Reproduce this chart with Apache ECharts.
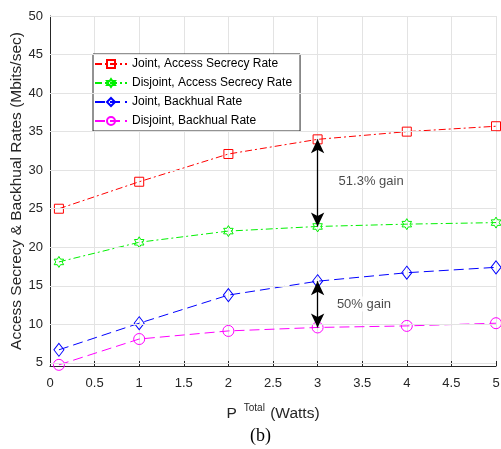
<!DOCTYPE html>
<html><head><meta charset="utf-8">
<script src="https://cdn.jsdelivr.net/npm/echarts@6/dist/echarts.min.js"></script>
<style>html,body{margin:0;padding:0;background:#fff}#c{width:501px;height:449px}</style>
</head><body><div id="c"></div>
<script>
const xValues = [0.1, 1, 2, 3, 4, 5];
const jointAccess = [25.0, 28.5, 32.1, 34.0, 35.0, 35.7];
const disjointAccess = [18.1, 20.65, 22.1, 22.7, 23.0, 23.2];
const jointBackhaul = [6.7, 10.15, 13.8, 15.6, 16.7, 17.4];
const disjointBackhaul = [4.75, 8.1, 9.15, 9.6, 9.8, 10.15];
const seriesNames = ['Joint, Access Secrecy Rate','Disjoint, Access Secrecy Rate','Joint, Backhual Rate','Disjoint, Backhual Rate'];
const yTicks = [5, 10, 15, 20, 25, 30, 35, 40, 45, 50];
const gainArrows = [[3, 34.0, 22.7], [3, 15.6, 9.6]];
const gainLabels = [[3.6, 28.6, '51.3% gain'], [3.52, 12.65, '50% gain']];

const hexagram = 'path://M0,-100 L28.9,-50 L86.6,-50 L57.7,0 L86.6,50 L28.9,50 L0,100 L-28.9,50 L-86.6,50 L-57.7,0 L-86.6,-50 L-28.9,-50 Z';
const FONT = 'Liberation Sans, Arial, sans-serif';
const pair = arr => xValues.map((x, i) => [x, arr[i]]);

function lineSeries(name, data, color, symbol, size, dash) {
  return {
    name, type: 'line', data: pair(data), symbol, symbolSize: size, symbolKeepAspect: true,
    showAllSymbol: true, clip: false,
    lineStyle: { color, width: 1, type: dash },
    itemStyle: { color: 'rgba(0,0,0,0)', borderColor: color, borderWidth: 1 },
    emphasis: { disabled: true }, z: 3
  };
}

const chart = echarts.init(document.getElementById('c'), null, { renderer: 'canvas' });
chart.setOption({
  animation: false,
  textStyle: { fontFamily: FONT },
  grid: { left: 50, right: 5, top: 16, bottom: 83, containLabel: false, outerBoundsMode: 'none' },
  xAxis: {
    type: 'value', min: 0, max: 5, interval: 0.5,
    axisLine: { lineStyle: { color: '#262626', width: 1 } },
    axisTick: { inside: true, length: 5, lineStyle: { color: '#262626' } },
    axisLabel: { color: '#262626', fontSize: 13, margin: 11, fontFamily: FONT },
    splitLine: { show: true, lineStyle: { color: '#e3e3e3', width: 1 } },
    name: '{p|P}{sup|Total}{w| (Watts)}', nameLocation: 'middle', nameGap: 36, nameMoveOverlap: false,
    nameTextStyle: {
      color: '#262626', fontFamily: FONT,
      rich: {
        p: { fontSize: 15.5, color: '#262626', fontFamily: FONT, verticalAlign: 'bottom', lineHeight: 20 },
        sup: { fontSize: 10, color: '#262626', fontFamily: FONT, verticalAlign: 'top', lineHeight: 20, padding: [1, 1, 0, 7] },
        w: { fontSize: 15.5, color: '#262626', fontFamily: FONT, verticalAlign: 'bottom', lineHeight: 20 }
      }
    }
  },
  yAxis: {
    type: 'value', min: 4.6, max: 50,
    axisLine: { show: true, lineStyle: { color: '#262626', width: 1 } },
    axisTick: { show: true, inside: true, length: 5, customValues: yTicks, lineStyle: { color: '#262626' } },
    axisLabel: { color: '#262626', fontSize: 13, margin: 7, fontFamily: FONT, customValues: yTicks },
    splitLine: { show: false },
    name: 'Access Secrecy & Backhual Rates (Mbits/sec)', nameLocation: 'middle', nameGap: 25, nameMoveOverlap: false,
    nameTextStyle: { color: '#262626', fontSize: 15.5, fontFamily: FONT }
  },
  legend: {
    data: seriesNames, orient: 'vertical', left: 93, top: 54,
    backgroundColor: '#fff', borderColor: '#262626', borderWidth: 1, borderRadius: 0,
    padding: [4, 8, 4, 1], itemWidth: 32, itemHeight: 10, itemGap: 7,
    textStyle: { fontSize: 12, color: '#000', fontFamily: FONT }, selectedMode: false
  },
  series: [
    {
      type: 'scatter', data: [], silent: true, z: 1,
      markLine: {
        silent: true, symbol: 'none', label: { show: false },
        lineStyle: { color: '#e3e3e3', width: 1, type: 'solid' },
        emphasis: { disabled: true },
        data: yTicks.map(v => ({ yAxis: v }))
      }
    },
    lineSeries(seriesNames[0], jointAccess, '#ff0000', 'rect', 9, [7, 3, 2, 3]),
    lineSeries(seriesNames[1], disjointAccess, '#00f000', hexagram, 11, [7, 3, 2, 3]),
    lineSeries(seriesNames[2], jointBackhaul, '#0000ff', 'diamond', [10, 13], [10, 5]),
    lineSeries(seriesNames[3], disjointBackhaul, '#ff00ff', 'circle', 11, [10, 5]),
    {
      type: 'scatter', data: [], silent: true,
      markLine: {
        silent: true, symbol: ['arrow', 'arrow'], symbolSize: [10, 14],
        lineStyle: { color: '#000', width: 1.3, type: 'solid' },
        itemStyle: { color: '#000' }, label: { show: false },
        data: gainArrows.map(a => [{ coord: [a[0], a[1]] }, { coord: [a[0], a[2]] }])
      },
      z: 5
    },
    {
      type: 'scatter', symbolSize: 0, silent: true,
      data: gainLabels,
      label: { show: true, position: 'inside', formatter: p => p.value[2], color: '#1a1a1a',
        fontSize: 13, fontFamily: FONT, backgroundColor: '#fff', padding: [1, 2] },
      z: 6
    }
  ],
  graphic: [{
    type: 'text', left: 250, top: 427,
    style: { text: '(b)', fontSize: 18, fontFamily: 'Liberation Serif, DejaVu Serif, serif', fill: '#000' }
  }]
});
</script></body></html>
